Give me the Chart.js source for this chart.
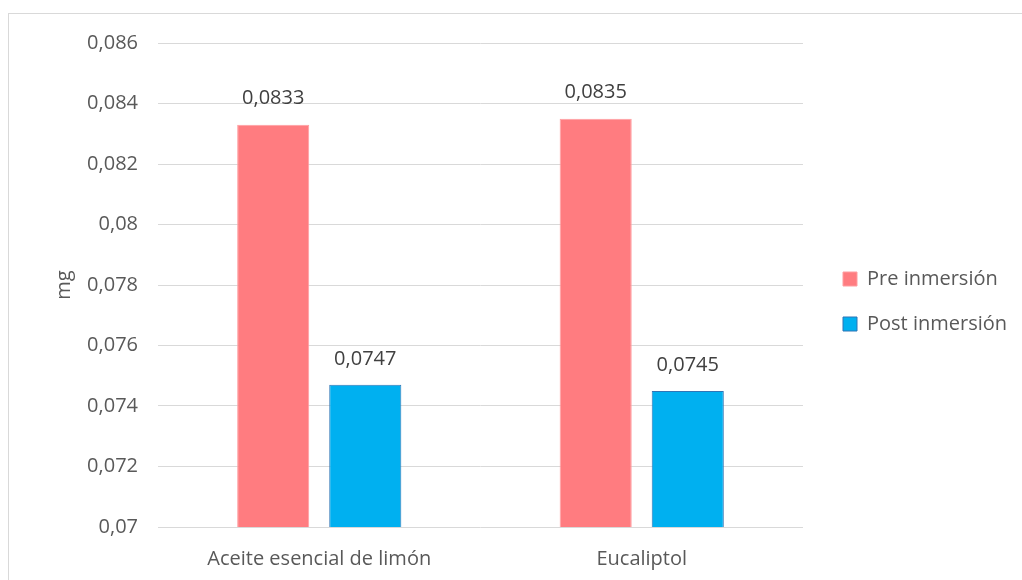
<!DOCTYPE html>
<html>
<head>
    <script src="https://cdn.jsdelivr.net/npm/chart.js@4.4.0/dist/chart.umd.min.js"></script>
    <style>
        body { margin: 0; background: #fff; }
        #wrap { position: relative; width: 1022px; height: 580px; overflow: hidden; }
        #frame { position: absolute; left: 8px; top: 13px; width: 1100px; height: 700px; border: 1px solid #d9d9d9; }
        canvas { position: absolute; left: 0; top: 0; }
    </style>
</head>
<body>
<div id="wrap">
    <div id="frame"></div>
    <canvas id="myChart" width="1022" height="580"></canvas>
</div>
<script>
    // data
    const categories = ['Aceite esencial de limón', 'Eucaliptol'];
    const preValues = [0.0833, 0.0835];
    const postValues = [0.0747, 0.0745];
    const seriesNames = ['Pre inmersión', 'Post inmersión'];

    const fmt = v => parseFloat(v.toFixed(4)).toString().replace('.', ',');

    // draws the value above each bar
    const valueLabels = {
        id: 'valueLabels',
        afterDatasetsDraw(chart) {
            const ctx = chart.ctx;
            ctx.save();
            ctx.font = '20px "Open Sans", sans-serif';
            ctx.fillStyle = '#404040';
            ctx.textAlign = 'center';
            ctx.textBaseline = 'middle';
            chart.data.datasets.forEach((ds, i) => {
                chart.getDatasetMeta(i).data.forEach((bar, j) => {
                    ctx.fillText(fmt(ds.data[j]), bar.x, bar.y - 26);
                });
            });
            ctx.restore();
        }
    };

    // nudge the legend to where the original has it
    const legendShift = {
        id: 'legendShift',
        afterLayout(chart) {
            const lg = chart.legend;
            const dx = 843 - 25 - lg.left;
            const dy = -10;
            lg.left += dx; lg.right += dx;
            lg.top += dy; lg.bottom += dy;
        }
    };

    const chart = new Chart(document.getElementById('myChart'), {
        type: 'bar',
        data: {
            labels: categories,
            datasets: [{
                label: seriesNames[0],
                data: preValues,
                backgroundColor: '#FF7C80',
                borderColor: '#FF9DA0',
                borderWidth: 1,
                categoryPercentage: 0.571,
                barPercentage: 0.783
            }, {
                label: seriesNames[1],
                data: postValues,
                backgroundColor: '#00B0F0',
                borderColor: '#2F75B5',
                borderWidth: 1,
                categoryPercentage: 0.571,
                barPercentage: 0.783
            }]
        },
        options: {
            responsive: false,
            animation: false,
            layout: { padding: { left: 8, top: 43, right: 20, bottom: 0 } },
            plugins: {
                legend: {
                    position: 'right',
                    labels: {
                        font: { family: 'Open Sans', size: 20 },
                        color: '#595959',
                        boxWidth: 14,
                        boxHeight: 14,
                        padding: 25
                    }
                },
                tooltip: { enabled: false }
            },
            scales: {
                x: {
                    grid: { display: false },
                    border: { display: false },
                    ticks: { font: { family: 'Open Sans', size: 20 }, color: '#595959', padding: 12 },
                    afterFit(scale) { scale.height = 53; }
                },
                y: {
                    min: 0.07,
                    max: 0.086,
                    ticks: {
                        stepSize: 0.002,
                        font: { family: 'Open Sans', size: 20 },
                        color: '#595959',
                        padding: 20,
                        callback: v => fmt(v)
                    },
                    grid: { color: '#d9d9d9', drawTicks: false },
                    border: { display: false },
                    title: {
                        display: true,
                        text: 'mg',
                        font: { family: 'Open Sans', size: 20 },
                        color: '#595959',
                        padding: { top: 44, bottom: 0 }
                    },
                    afterFit(scale) { scale.width = 150; }
                }
            }
        },
        plugins: [valueLabels, legendShift]
    });
</script>
</body>
</html>
